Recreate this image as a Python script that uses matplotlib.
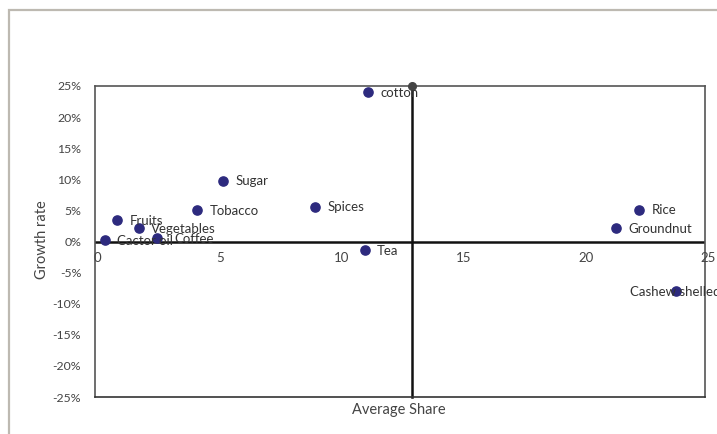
import matplotlib
matplotlib.use("Agg")
import matplotlib.pyplot as plt
from matplotlib.patches import Rectangle
import matplotlib.transforms as mtransforms

# ---- data ----
products = ["cotton", "Sugar", "Tobacco", "Spices", "Fruits", "Vegetables",
            "Coffee", "Cactor oil", "Tea", "Rice", "Groundnut", "Cashew shelled"]
avg_share = [11.2, 5.25, 4.2, 9.0, 0.9, 1.8, 2.55, 0.4, 11.05, 22.3, 21.35, 23.8]
growth = [24.0, 9.8, 5.0, 5.6, 3.4, 2.1, 0.5, 0.2, -1.4, 5.1, 2.1, -8.0]
label_align = ["left"] * 11 + ["center"]

divider_x = 13.0
y_ticks = [-25, -20, -15, -10, -5, 0, 5, 10, 15, 20, 25]
y_tick_labels = ["-25%", "-20%", "-15%", "-10%", "-5%", "0%", "5%", "10%", "15%", "20%", "25%"]
x_ticks = [0, 5, 10, 15, 20, 25]
x_tick_labels = ["0", "5", "10", "15", "20", "25"]

plt.rcParams['font.family'] = ['Lato', 'DejaVu Sans']

W, H = 717, 434
fig = plt.figure(figsize=(W / 100, H / 100), dpi=100)
fig.patch.set_facecolor("white")

# outer chart frame (cropped on right/bottom)
fig.patches.append(Rectangle((9 / W, -0.1), 1.2, 1 - 10 / H + 0.1,
                             transform=fig.transFigure, fill=False,
                             edgecolor="#bdb9b1", lw=1.6, zorder=0))

ax = fig.add_axes([95 / W, 1 - 397 / H, 610 / W, 311 / H])
ax.set_xlim(0, 25)
ax.set_ylim(-25, 25)
for s in ax.spines.values():
    s.set_color("#555555")
    s.set_linewidth(1.2)
ax.spines["bottom"].set_color("#333333")

# quadrant lines
ax.axhline(0, color="#111111", lw=1.8, zorder=2)
ax.plot([divider_x, divider_x], [-25, 25], color="#111111", lw=1.8, zorder=2,
        clip_on=False)
ax.plot([divider_x], [25], marker="o", color="#444444", markersize=5.5,
        zorder=3, clip_on=False)

# points
ax.scatter(avg_share, growth, s=44, color="#2d2a7e", zorder=4, clip_on=False)
for name, x, y, ha in zip(products, avg_share, growth, label_align):
    dx = 9 if ha == "left" else 0
    if name == "Coffee":
        dx = 12
    off = mtransforms.offset_copy(ax.transData, fig=fig, x=dx, y=-0.5, units="points")
    ax.text(x, y, name, transform=off, ha=ha, va="center", fontsize=9.5,
            color="#333333", zorder=5, clip_on=False)

# y ticks
ax.set_yticks(y_ticks)
ax.set_yticklabels(y_tick_labels)
ax.tick_params(axis="y", length=0, pad=10, labelsize=8.8, labelcolor="#444444")

# x tick labels next to the zero line
ax.set_xticks([])
for t, lab in zip(x_ticks, x_tick_labels):
    off = mtransforms.offset_copy(ax.transData, fig=fig, x=2, y=-12, units="points")
    ax.text(t, 0, lab, transform=off, ha="center", va="center", fontsize=9.5,
            color="#444444", clip_on=False)

fig.text(399 / W, 1 - 410 / H, "Average Share", ha="center", va="center",
         fontsize=10.5, color="#444444")
fig.text(42 / W, 1 - 240 / H, "Growth rate", ha="center", va="center",
         rotation=90, fontsize=10.5, color="#444444")

fig.savefig("out.png", dpi=100)
